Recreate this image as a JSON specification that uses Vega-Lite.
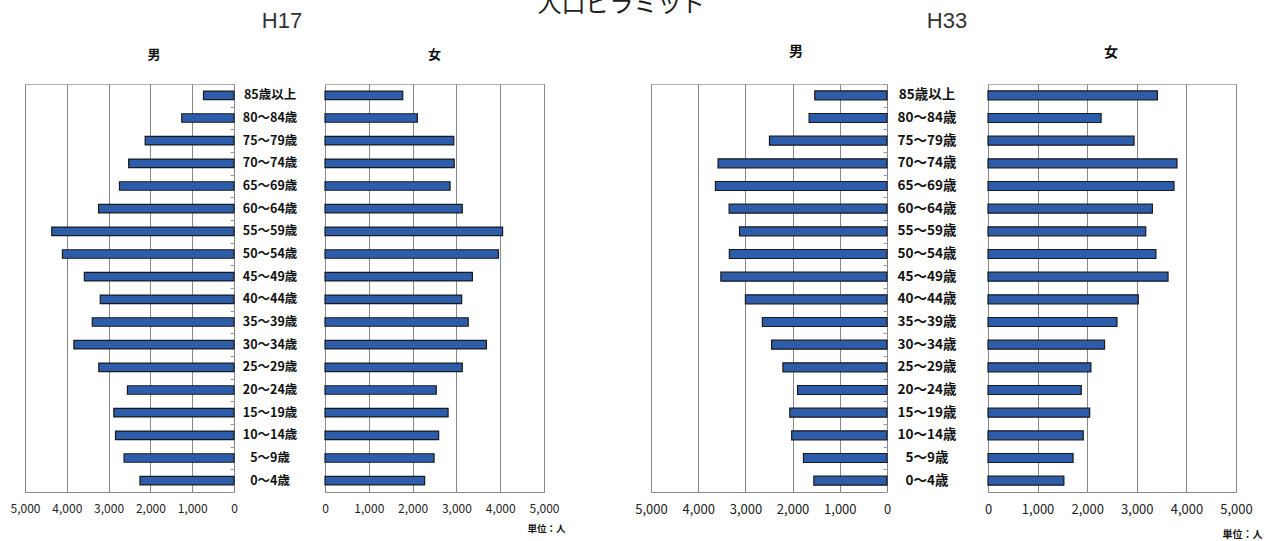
{
  "$schema": "https://vega.github.io/schema/vega-lite/v6.json",
  "padding": {"left": 9, "top": -7, "right": 0, "bottom": 0},
  "title": {"text": "人口ピラミッド", "fontSize": 24, "fontWeight": "normal", "color": "#222", "anchor": "middle", "frame": "bounds", "offset": -26, "dx": -14.5, "baseline": "alphabetic"},
  "datasets": {
    "h17": [
      {"age": "85歳以上", "male": 730, "female": 1775},
      {"age": "80〜84歳", "male": 1250, "female": 2110},
      {"age": "75〜79歳", "male": 2125, "female": 2940},
      {"age": "70〜74歳", "male": 2520, "female": 2950},
      {"age": "65〜69歳", "male": 2740, "female": 2855},
      {"age": "60〜64歳", "male": 3240, "female": 3135},
      {"age": "55〜59歳", "male": 4360, "female": 4055},
      {"age": "50〜54歳", "male": 4105, "female": 3960},
      {"age": "45〜49歳", "male": 3580, "female": 3365},
      {"age": "40〜44歳", "male": 3200, "female": 3120},
      {"age": "35〜39歳", "male": 3390, "female": 3270},
      {"age": "30〜34歳", "male": 3830, "female": 3685},
      {"age": "25〜29歳", "male": 3235, "female": 3135},
      {"age": "20〜24歳", "male": 2550, "female": 2540},
      {"age": "15〜19歳", "male": 2875, "female": 2810},
      {"age": "10〜14歳", "male": 2835, "female": 2595},
      {"age": "5〜9歳", "male": 2630, "female": 2490},
      {"age": "0〜4歳", "male": 2250, "female": 2275}
    ],
    "h33": [
      {"age": "85歳以上", "male": 1530, "female": 3415},
      {"age": "80〜84歳", "male": 1650, "female": 2280},
      {"age": "75〜79歳", "male": 2490, "female": 2945},
      {"age": "70〜74歳", "male": 3580, "female": 3810},
      {"age": "65〜69歳", "male": 3635, "female": 3750},
      {"age": "60〜64歳", "male": 3345, "female": 3315},
      {"age": "55〜59歳", "male": 3125, "female": 3180},
      {"age": "50〜54歳", "male": 3340, "female": 3385},
      {"age": "45〜49歳", "male": 3520, "female": 3630},
      {"age": "40〜44歳", "male": 3000, "female": 3030},
      {"age": "35〜39歳", "male": 2640, "female": 2600},
      {"age": "30〜34歳", "male": 2445, "female": 2350},
      {"age": "25〜29歳", "male": 2205, "female": 2075},
      {"age": "20〜24歳", "male": 1895, "female": 1880},
      {"age": "15〜19歳", "male": 2060, "female": 2050},
      {"age": "10〜14歳", "male": 2020, "female": 1920},
      {"age": "5〜9歳", "male": 1770, "female": 1715},
      {"age": "0〜4歳", "male": 1550, "female": 1530}
    ]
  },
  "bounds": "flush",
  "spacing": 0,
  "hconcat": [
    {
      "width": 209, "height": 408,
      "data": {"name": "h17"},
      "title": {"text": "男", "fontSize": 13, "fontWeight": "bold", "color": "#111", "offset": 12, "frame": "group", "anchor": "middle", "dx": 24.5, "baseline": "alphabetic"},
      "mark": {"type": "bar", "size": 8.5, "fill": "#2d5caa", "stroke": "#1a1a1a", "strokeWidth": 1.2},
      "encoding": {
        "y": {"field": "age", "type": "nominal", "sort": null, "scale": {"paddingInner": 0, "paddingOuter": 0},
              "axis": {"orient": "right", "labels": false, "title": null, "domain": false, "ticks": true, "tickBand": "extent", "tickSize": -4, "tickColor": "#999", "grid": false}},
        "x": {"field": "male", "type": "quantitative", "scale": {"domain": [0, 5000], "reverse": true, "nice": false},
              "axis": {"values": [0, 1000, 2000, 3000, 4000, 5000], "format": ",d", "title": null, "grid": true, "gridColor": "#888", "ticks": false, "domainColor": "#888", "labelFontSize": 12, "labelColor": "#222", "labelPadding": 11, "labelFlush": false, "labelOverlap": false}}
      }
    },
    {
      "width": 91, "height": 408,
      "data": {"name": "h17"},
      "view": {"stroke": null},
      "title": {"text": "H17", "font": "Liberation Sans", "fontSize": 22, "fontWeight": "normal", "color": "#333", "offset": 34, "frame": "group", "anchor": "middle", "dx": 2.5, "baseline": "alphabetic"},
      "mark": {"type": "text", "fontSize": 12.5, "fontWeight": "bold", "color": "#111", "dx": -9.5, "align": "center", "baseline": "middle"},
      "encoding": {
        "y": {"field": "age", "type": "nominal", "sort": null, "scale": {"paddingInner": 0, "paddingOuter": 0}, "axis": null},
        "text": {"field": "age", "type": "nominal"}
      }
    },
    {
      "width": 219, "height": 408,
      "data": {"name": "h17"},
      "title": {"text": "女", "fontSize": 13, "fontWeight": "bold", "color": "#111", "offset": 12, "frame": "group", "anchor": "middle", "dx": 0, "baseline": "alphabetic"},
      "mark": {"type": "bar", "size": 8.5, "fill": "#2d5caa", "stroke": "#1a1a1a", "strokeWidth": 1.2},
      "encoding": {
        "y": {"field": "age", "type": "nominal", "sort": null, "scale": {"paddingInner": 0, "paddingOuter": 0}, "axis": null},
        "x": {"field": "female", "type": "quantitative", "scale": {"domain": [0, 5000], "nice": false},
              "axis": {"values": [0, 1000, 2000, 3000, 4000, 5000], "format": ",d", "grid": true, "gridColor": "#888", "ticks": false, "domainColor": "#888", "labelFontSize": 12, "labelColor": "#222", "labelPadding": 11, "labelFlush": false, "labelOverlap": false,
                       "title": "単位：人", "titleX": 240, "titleY": 39, "titleAlign": "right", "titleBaseline": "alphabetic", "titleFontSize": 9.5, "titleFontWeight": "bold", "titleColor": "#111"}}
      }
    },
    {
      "width": 107, "height": 408,
      "data": {"values": []},
      "view": {"stroke": null},
      "mark": {"type": "text"},
      "encoding": {}
    },
    {
      "width": 236, "height": 408,
      "data": {"name": "h33"},
      "title": {"text": "男", "fontSize": 14, "fontWeight": "bold", "color": "#111", "offset": 13.5, "frame": "group", "anchor": "middle", "dx": 27, "baseline": "alphabetic"},
      "mark": {"type": "bar", "size": 9, "fill": "#2d5caa", "stroke": "#1a1a1a", "strokeWidth": 1.2},
      "encoding": {
        "y": {"field": "age", "type": "nominal", "sort": null, "scale": {"paddingInner": 0, "paddingOuter": 0},
              "axis": {"orient": "right", "labels": false, "title": null, "domain": false, "ticks": true, "tickBand": "extent", "tickSize": -4, "tickColor": "#999", "grid": false}},
        "x": {"field": "male", "type": "quantitative", "scale": {"domain": [0, 5000], "reverse": true, "nice": false},
              "axis": {"values": [0, 1000, 2000, 3000, 4000, 5000], "format": ",d", "title": null, "grid": true, "gridColor": "#888", "ticks": false, "domainColor": "#888", "labelFontSize": 13, "labelColor": "#222", "labelPadding": 11, "labelFlush": false, "labelOverlap": false}}
      }
    },
    {
      "width": 101, "height": 408,
      "data": {"name": "h33"},
      "view": {"stroke": null},
      "title": {"text": "H33", "font": "Liberation Sans", "fontSize": 22, "fontWeight": "normal", "color": "#333", "offset": 34, "frame": "group", "anchor": "middle", "dx": 9.5, "baseline": "alphabetic"},
      "mark": {"type": "text", "fontSize": 13.5, "fontWeight": "bold", "color": "#111", "dx": -10.5, "align": "center", "baseline": "middle"},
      "encoding": {
        "y": {"field": "age", "type": "nominal", "sort": null, "scale": {"paddingInner": 0, "paddingOuter": 0}, "axis": null},
        "text": {"field": "age", "type": "nominal"}
      }
    },
    {
      "width": 248, "height": 408,
      "data": {"name": "h33"},
      "title": {"text": "女", "fontSize": 14, "fontWeight": "bold", "color": "#111", "offset": 13.5, "frame": "group", "anchor": "middle", "dx": -1, "baseline": "alphabetic"},
      "mark": {"type": "bar", "size": 9, "fill": "#2d5caa", "stroke": "#1a1a1a", "strokeWidth": 1.2},
      "encoding": {
        "y": {"field": "age", "type": "nominal", "sort": null, "scale": {"paddingInner": 0, "paddingOuter": 0}, "axis": null},
        "x": {"field": "female", "type": "quantitative", "scale": {"domain": [0, 5000], "nice": false},
              "axis": {"values": [0, 1000, 2000, 3000, 4000, 5000], "format": ",d", "grid": true, "gridColor": "#888", "ticks": false, "domainColor": "#888", "labelFontSize": 13, "labelColor": "#222", "labelPadding": 11, "labelFlush": false, "labelOverlap": false,
                       "title": "単位：人", "titleX": 274, "titleY": 45, "titleAlign": "right", "titleBaseline": "alphabetic", "titleFontSize": 10, "titleFontWeight": "bold", "titleColor": "#111"}}
      }
    }
  ],
  "config": {
    "font": "Noto Sans CJK JP",
    "view": {"stroke": "#b0b0b0"},
    "background": "white"
  }
}
